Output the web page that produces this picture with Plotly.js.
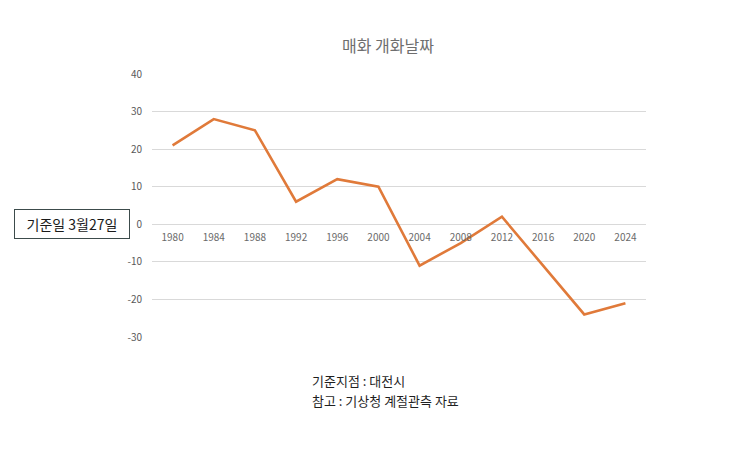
<!DOCTYPE html>
<html>
<head>
<meta charset="utf-8">
<script src="https://cdn.plot.ly/plotly-3.0.1.min.js"></script>
<style>html,body{margin:0;padding:0;background:#fff;}#chart{width:743px;height:454px;}</style>
</head>
<body>
<div id="chart"></div>
<script>
const years = ['1980','1984','1988','1992','1996','2000','2004','2008','2012','2016','2020','2024'];
const days = [21, 28, 25, 6, 12, 10, -11, -5, 2, -11, -24, -21];
const yTicks = [-30, -20, -10, 0, 10, 20, 30, 40];
const yTickText = ['-30', '-20', '-10', '0', '10', '20', '30', '40'];
const titleText = '매화 개화날짜';
const baseLabel = '기준일 3월27일';
const noteLine1 = '기준지점 : 대전시';
const noteLine2 = '참고 : 기상청 계절관측 자료';

const FONT = '"Noto Sans CJK KR", "Noto Sans", sans-serif';

const trace = {
  type: 'scatter',
  mode: 'lines',
  x: years,
  y: days,
  line: {color: '#E07A3A', width: 2.6},
  hoverinfo: 'x+y'
};

const layout = {
  width: 743,
  height: 454,
  paper_bgcolor: '#ffffff',
  plot_bgcolor: '#ffffff',
  margin: {l: 152, r: 97, t: 74, b: 117},
  showlegend: false,
  font: {family: FONT, color: '#595959'},
  title: {
    text: titleText,
    font: {family: FONT, size: 16, color: '#6e6e6e'},
    x: 388 / 743,
    xanchor: 'center',
    xref: 'container',
    y: 1 - 46 / 454,
    yanchor: 'middle',
    yref: 'container'
  },
  xaxis: {
    type: 'category',
    range: [-0.5, years.length - 0.5],
    anchor: 'free',
    position: 30 / 70,
    showgrid: false,
    showline: false,
    zeroline: false,
    ticks: '',
    tickfont: {family: FONT, size: 10, color: '#6a6a6a'},
    ticklabelstandoff: 6,
    fixedrange: true
  },
  yaxis: {
    range: [-30, 40],
    tickvals: yTicks,
    ticktext: yTickText,
    showgrid: true,
    gridcolor: '#d9d9d9',
    gridwidth: 1,
    zeroline: true,
    zerolinecolor: '#d9d9d9',
    zerolinewidth: 1,
    showline: false,
    ticks: '',
    tickfont: {family: FONT, size: 10, color: '#595959'},
    ticklabelstandoff: 9,
    fixedrange: true
  },
  annotations: [
    {
      text: baseLabel,
      xref: 'paper', yref: 'paper',
      x: (72 - 152) / 494, y: 30 / 70,
      xanchor: 'center', yanchor: 'middle',
      showarrow: false,
      font: {family: FONT, size: 14, color: '#1a1a1a'},
      bordercolor: '#3c4b4b',
      borderwidth: 1,
      borderpad: 5,
      bgcolor: '#ffffff',
      width: 104,
      height: 18
    },
    {
      text: noteLine1,
      xref: 'paper', yref: 'paper',
      x: (311 - 152) / 494, y: (337 - 380) / 263,
      xanchor: 'left', yanchor: 'middle',
      align: 'left',
      showarrow: false,
      borderpad: 0,
      font: {family: FONT, size: 13, color: '#1f1f1f'}
    },
    {
      text: noteLine2,
      xref: 'paper', yref: 'paper',
      x: (311 - 152) / 494, y: (337 - 400) / 263,
      xanchor: 'left', yanchor: 'middle',
      align: 'left',
      showarrow: false,
      borderpad: 0,
      font: {family: FONT, size: 13, color: '#1f1f1f'}
    }
  ]
};

Plotly.newPlot('chart', [trace], layout, {displayModeBar: false, staticPlot: true});
</script>
</body>
</html>
